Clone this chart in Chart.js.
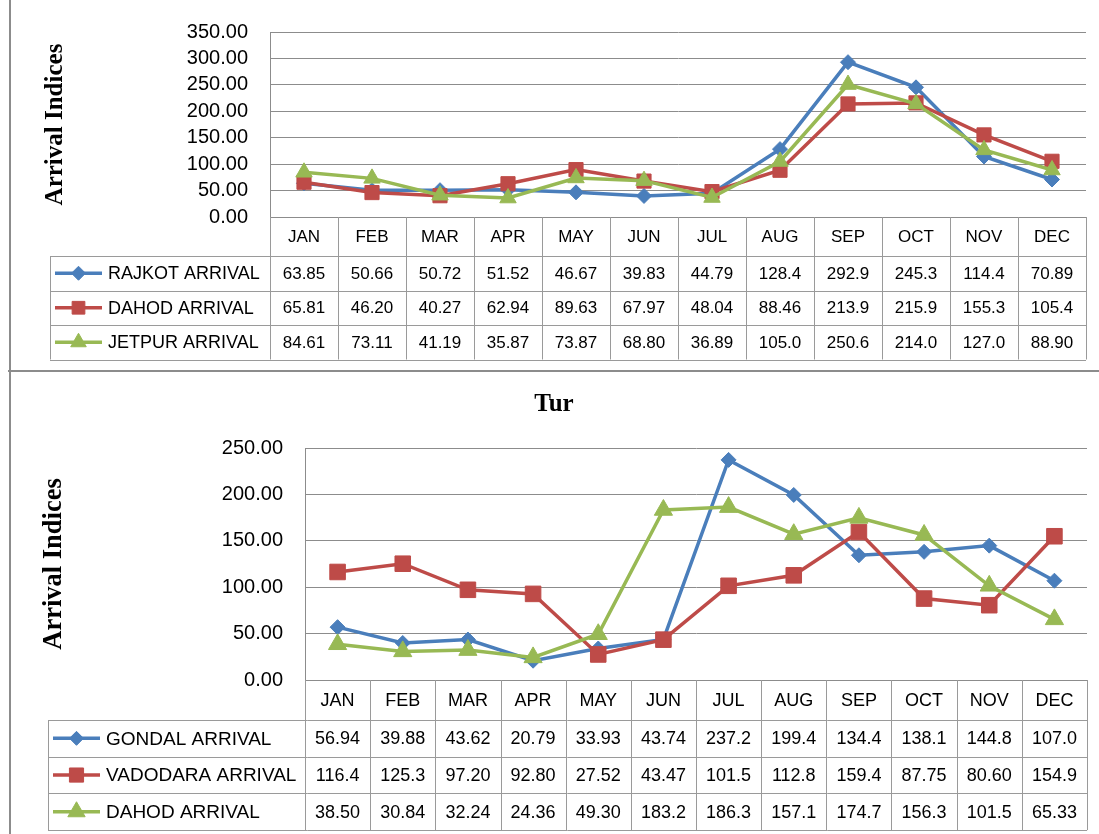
<!DOCTYPE html>
<html><head><meta charset="utf-8">
<script src="https://cdn.jsdelivr.net/npm/chart.js@4.4.0/dist/chart.umd.min.js"></script>
<style>
html,body{margin:0;padding:0;background:#fff;}
body{width:1099px;height:834px;position:relative;overflow:hidden;}
#p1{position:absolute;left:0;top:0;width:1099px;height:371px;}
#p2{position:absolute;left:21px;top:372px;width:1078px;height:462px;}
.vline{position:absolute;left:9px;top:0;width:2px;height:834px;background:#8c8c8c;}
.hline{position:absolute;left:8px;top:370px;width:1091px;height:2px;background:#8c8c8c;}
canvas{display:block;}
</style></head><body>
<div class="vline"></div><div class="hline"></div>
<div id="p1"><canvas id="c1" width="1099" height="371"></canvas></div>
<div id="p2"><canvas id="c2" width="1078" height="462"></canvas></div>
<script>
// ---- data ----
const months = ['JAN','FEB','MAR','APR','MAY','JUN','JUL','AUG','SEP','OCT','NOV','DEC'];

const seriesNamesTop = ['RAJKOT ARRIVAL','DAHOD ARRIVAL','JETPUR ARRIVAL'];
const rajkotArrival = [63.85,50.66,50.72,51.52,46.67,39.83,44.79,128.4,292.9,245.3,114.4,70.89];
const dahodArrivalTop = [65.81,46.20,40.27,62.94,89.63,67.97,48.04,88.46,213.9,215.9,155.3,105.4];
const jetpurArrival = [84.61,73.11,41.19,35.87,73.87,68.80,36.89,105.0,250.6,214.0,127.0,88.90];

const seriesNamesTur = ['GONDAL ARRIVAL','VADODARA ARRIVAL','DAHOD ARRIVAL'];
const gondalArrival = [56.94,39.88,43.62,20.79,33.93,43.74,237.2,199.4,134.4,138.1,144.8,107.0];
const vadodaraArrival = [116.4,125.3,97.20,92.80,27.52,43.47,101.5,112.8,159.4,87.75,80.60,154.9];
const dahodArrivalTur = [38.50,30.84,32.24,24.36,49.30,183.2,186.3,157.1,174.7,156.3,101.5,65.33];

const yTicksTop = {min:0, max:350, step:50};
const yTicksTur = {min:0, max:250, step:50};
const yAxisTitle = 'Arrival Indices';
const turTitle = 'Tur';

// ---- styles ----
const BLUE = '#4A7EBB', RED = '#BE4B48', GREEN = '#98B954';
const GRID = '#8c8c8c', TABLE_LINE = '#9a9a9a';

function fallbackPoint(ctx, o, x, y) {
  const r = o.radius;
  ctx.beginPath();
  if (o.pointStyle === 'rect') {
    const s = Math.SQRT1_2 * r; ctx.rect(x - s, y - s, 2 * s, 2 * s);
  } else if (o.pointStyle === 'rectRot') {
    ctx.moveTo(x - r, y); ctx.lineTo(x, y - r); ctx.lineTo(x + r, y); ctx.lineTo(x, y + r); ctx.closePath();
  } else {
    const a = Math.PI * 2 / 3;
    ctx.moveTo(x, y - r);
    ctx.lineTo(x + Math.sin(a) * r, y - Math.cos(a) * r);
    ctx.lineTo(x + Math.sin(2 * a) * r, y - Math.cos(2 * a) * r);
    ctx.closePath();
  }
  ctx.fill(); ctx.stroke();
}

const dataTable = {
  id: 'dataTable',
  afterDraw(chart, args, opts) {
    const {ctx, chartArea: ca} = chart;
    const x = chart.scales.x;
    const n = chart.data.labels.length;
    const colW = (ca.right - ca.left) / n;
    const headTop = ca.bottom, headBot = ca.bottom + opts.headerH;
    const dsets = chart.data.datasets;
    const tableBot = headBot + dsets.length * opts.rowH;
    ctx.save();
    ctx.strokeStyle = TABLE_LINE; ctx.lineWidth = 1;
    for (let i = 0; i <= n; i++) {
      const xx = Math.round(x.getPixelForValue(i) - colW / 2) + 0.5;
      ctx.beginPath(); ctx.moveTo(xx, headTop); ctx.lineTo(xx, tableBot); ctx.stroke();
    }
    for (let r = 0; r <= dsets.length; r++) {
      const yy = Math.round(headBot + r * opts.rowH) + 0.5;
      ctx.beginPath(); ctx.moveTo(opts.left, yy); ctx.lineTo(ca.right, yy); ctx.stroke();
    }
    const lx = Math.round(opts.left) + 0.5;
    ctx.beginPath(); ctx.moveTo(lx, headBot); ctx.lineTo(lx, tableBot); ctx.stroke();

    ctx.fillStyle = '#000';
    ctx.textBaseline = 'middle';
    ctx.textAlign = 'center';
    ctx.font = opts.monthFont;
    for (let i = 0; i < n; i++) {
      ctx.fillText(chart.data.labels[i], x.getPixelForValue(i), (headTop + headBot) / 2 + 1);
    }
    const dp = (Chart.helpers && Chart.helpers.drawPoint) ? Chart.helpers.drawPoint : fallbackPoint;
    dsets.forEach((d, r) => {
      const cy = headBot + (r + 0.5) * opts.rowH;
      ctx.fillStyle = '#000';
      ctx.textAlign = 'center';
      ctx.font = opts.valueFont;
      d.data.forEach((v, i) => {
        ctx.fillText(Number(v).toPrecision(4), x.getPixelForValue(i), cy + 1);
      });
      ctx.strokeStyle = d.borderColor; ctx.lineWidth = d.borderWidth;
      ctx.beginPath(); ctx.moveTo(opts.keyX0, cy); ctx.lineTo(opts.keyX1, cy); ctx.stroke();
      ctx.fillStyle = d.borderColor; ctx.strokeStyle = d.borderColor; ctx.lineWidth = 1;
      dp(ctx, {pointStyle: d.pointStyle, radius: opts.keyRadius[r], rotation: 0, borderWidth: 1}, (opts.keyX0 + opts.keyX1) / 2, cy);
      ctx.fillStyle = '#000';
      ctx.textAlign = 'left';
      ctx.font = opts.labelFont;
      ctx.fillText(d.label, opts.labelX, cy + 1);
      ctx.strokeStyle = TABLE_LINE; ctx.lineWidth = 1;
    });
    ctx.restore();
  }
};

function ds(label, data, color, style, radius, order, bw) {
  return {label, data, borderColor: color, backgroundColor: color,
    pointBackgroundColor: color, pointBorderColor: color, pointStyle: style,
    pointRadius: radius, pointHoverRadius: radius, borderWidth: bw, pointBorderWidth: 1,
    tension: 0, order};
}

function makeChart(id, cfg) {
  return new Chart(document.getElementById(id), {
    type: 'line',
    data: {labels: months, datasets: cfg.datasets},
    plugins: [dataTable],
    options: {
      responsive: false, animation: false,
      layout: {padding: cfg.padding},
      plugins: {
        legend: {display: false}, tooltip: {enabled: false},
        title: cfg.title,
        dataTable: cfg.table
      },
      scales: {
        x: {display: false, offset: true},
        y: {
          min: cfg.ticks.min, max: cfg.ticks.max,
          afterFit(scale) { scale.width = cfg.axisWidth; },
          grid: {color: GRID, lineWidth: 1, drawTicks: false},
          border: {display: true, color: GRID, width: 1},
          ticks: {stepSize: cfg.ticks.step, padding: 22, color: '#000', autoSkip: false,
            font: {family: 'Liberation Sans', size: 20, lineHeight: 1},
            callback: v => Number(v).toFixed(2)},
          title: {display: true, text: yAxisTitle, color: '#000',
            font: {family: 'Liberation Serif', size: cfg.yTitleSize, weight: 'bold'},
            padding: {top: cfg.yTitlePad, bottom: 0}}
        }
      }
    }
  });
}

makeChart('c1', {
  datasets: [
    ds(seriesNamesTop[0], rajkotArrival, BLUE, 'rectRot', 7.5, 3, 3.5),
    ds(seriesNamesTop[1], dahodArrivalTop, RED, 'rect', 10, 2, 3.5),
    ds(seriesNamesTop[2], jetpurArrival, GREEN, 'triangle', 9.5, 1, 3.5)
  ],
  padding: {top: 30, right: 13, bottom: 154, left: 0},
  title: {display: false},
  ticks: yTicksTop,
  axisWidth: 270,
  yTitleSize: 25, yTitlePad: 41,
  table: {headerH: 39, rowH: 34.5, left: 50, keyX0: 55, keyX1: 102, labelX: 108,
    keyRadius: [7, 9, 9],
    monthFont: '17px "Liberation Sans"', valueFont: '17px "Liberation Sans"', labelFont: '18px "Liberation Sans"'}
});

makeChart('c2', {
  datasets: [
    ds(seriesNamesTur[0], gondalArrival, BLUE, 'rectRot', 7.5, 3, 3.5),
    ds(seriesNamesTur[1], vadodaraArrival, RED, 'rect', 11, 2, 3.5),
    ds(seriesNamesTur[2], dahodArrivalTur, GREEN, 'triangle', 10.5, 1, 3.5)
  ],
  padding: {top: 0, right: 12, bottom: 154, left: 0},
  title: {display: true, text: turTitle, color: '#000',
    font: {family: 'Liberation Serif', size: 25, weight: 'bold'},
    padding: {top: 18, bottom: 28}},
  ticks: yTicksTur,
  axisWidth: 284,
  yTitleSize: 26.5, yTitlePad: 17,
  table: {headerH: 40, rowH: 36.7, left: 27, keyX0: 32, keyX1: 79, labelX: 85,
    keyRadius: [7, 10, 10],
    monthFont: '18px "Liberation Sans"', valueFont: '18px "Liberation Sans"', labelFont: '19px "Liberation Sans"'}
});
</script>
</body></html>
